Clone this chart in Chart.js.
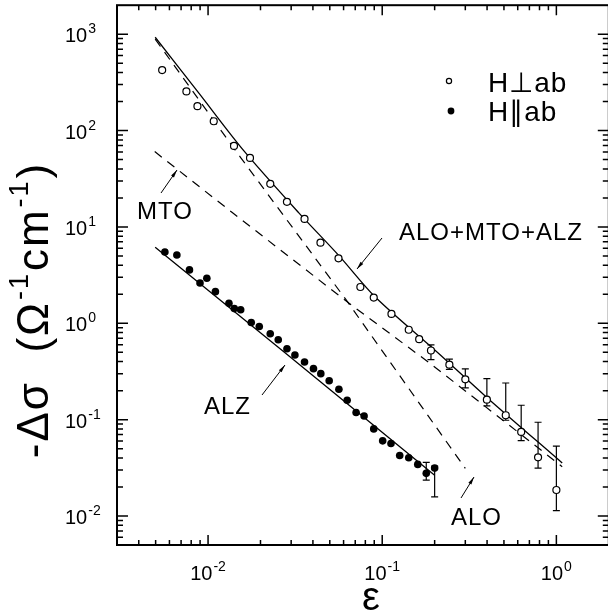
<!DOCTYPE html>
<html>
<head>
<meta charset="utf-8">
<script src="https://cdn.jsdelivr.net/npm/chart.js@4.4.1/dist/chart.umd.min.js"></script>
<style>
  html, body { margin: 0; padding: 0; background: #fff; overflow: hidden; }
  #wrap { width: 614px; height: 615px; }
</style>
</head>
<body>
<div id="wrap"><canvas id="chart" width="614" height="615"></canvas></div>
<script>
// H perpendicular to ab (open circles)
const perpEps = [0.00545, 0.00751, 0.00869, 0.01078, 0.01409, 0.01741, 0.02276, 0.02837,
  0.0358, 0.0442, 0.0561, 0.0749, 0.0894, 0.113, 0.142, 0.163, 0.1905, 0.243,
  0.300, 0.399, 0.512, 0.628, 0.785, 1.0];
const perpSig = [424, 255, 179, 125, 69.3, 52, 28.0, 18.2,
  12.1, 6.86, 4.72, 2.38, 1.85, 1.25, 0.857, 0.684, 0.522, 0.372,
  0.262, 0.161, 0.111, 0.0746, 0.0406, 0.0186];
const perpErrLo = [null, null, null, null, null, null, null, null,
  null, null, null, null, null, null, null, null, 0.419, 0.333,
  0.214, 0.139, 0.0986, 0.0605, 0.0314, 0.01135];
const perpErrHi = [null, null, null, null, null, null, null, null,
  null, null, null, null, null, null, null, null, 0.598, 0.425,
  0.336, 0.266, 0.240, 0.141, 0.094, 0.0531];

// H parallel to ab (filled circles)
const parEps = [0.00565, 0.00662, 0.00782, 0.00899, 0.00984, 0.01102, 0.01318, 0.01415,
  0.01539, 0.0177, 0.01968, 0.02275, 0.02529, 0.02838, 0.03153, 0.0358, 0.0403,
  0.0444, 0.0496, 0.0564, 0.0629, 0.0708, 0.0787, 0.0894, 0.1006, 0.1123, 0.126,
  0.142, 0.160, 0.179, 0.200];
const parSig = [5.50, 5.12, 3.58, 2.62, 2.93, 2.13, 1.61, 1.42,
  1.38, 1.02, 0.927, 0.778, 0.675, 0.545, 0.468, 0.396, 0.338,
  0.300, 0.253, 0.207, 0.159, 0.1186, 0.109, 0.0801, 0.0602, 0.0566, 0.0425,
  0.0402, 0.0343, 0.0277, 0.0314];
const parErrLo = [null, null, null, null, null, null, null, null,
  null, null, null, null, null, null, null, null, null,
  null, null, null, null, null, null, null, null, null, null,
  null, null, 0.0236, 0.0158];
const parErrHi = [null, null, null, null, null, null, null, null,
  null, null, null, null, null, null, null, null, null,
  null, null, null, null, null, null, null, null, null, null,
  null, null, 0.036, 0.033];

// fitted curves
const totalEps = [0.00497, 0.00888, 0.01607, 0.0332, 0.0564, 0.0918, 0.211, 0.397, 1.08];
const totalSig = [930, 243, 61.5, 14.0, 5.04, 1.85, 0.486, 0.171, 0.0355];
const aloEps = [0.00497, 0.01539, 0.0615, 0.300];
const aloSig = [887, 52.4, 1.79, 0.0312];
const mtoEps = [0.00494, 0.01377, 0.0643, 0.185, 1.08];
const mtoSig = [60.5, 14.1, 1.62, 0.393, 0.0325];
const alzEps = [0.00497, 0.028, 0.200];
const alzSig = [6.14, 0.486, 0.0265];

// axes
const xTickValues = [0.01, 0.1, 1];
const xTickLabels = ['10^-2', '10^-1', '10^0'];
const yTickValues = [0.01, 0.1, 1, 10, 100, 1000];
const yTickLabels = ['10^-2', '10^-1', '10^0', '10^1', '10^2', '10^3'];

const FONT = '"Liberation Sans", Arial, sans-serif';

function pts(xs, ys) {
  return xs.map((x, i) => ({ x: x, y: ys[i] }));
}

function drawSup(ctx, label, x, y, size, supSize, align) {
  // label like "10^-2"; y is vertical middle of the base text
  const parts = label.split('^');
  ctx.font = size + 'px ' + FONT;
  const wb = ctx.measureText(parts[0]).width;
  ctx.font = supSize + 'px ' + FONT;
  const ws = ctx.measureText(parts[1]).width;
  let x0 = x;
  if (align === 'center') x0 = x - (wb + ws + 1) / 2;
  ctx.textBaseline = 'alphabetic';
  ctx.textAlign = 'left';
  ctx.font = size + 'px ' + FONT;
  ctx.fillText(parts[0], x0, y + size * 0.36);
  ctx.font = supSize + 'px ' + FONT;
  ctx.fillText(parts[1], x0 + wb + 1, y + size * 0.36 - size * 0.45);
}

function arrow(ctx, x1, y1, x2, y2) {
  ctx.beginPath();
  ctx.moveTo(x1, y1);
  ctx.lineTo(x2, y2);
  ctx.stroke();
  const a = Math.atan2(y2 - y1, x2 - x1);
  const L = 8, W = 0.22;
  ctx.beginPath();
  ctx.moveTo(x2, y2);
  ctx.lineTo(x2 - L * Math.cos(a - W), y2 - L * Math.sin(a - W));
  ctx.lineTo(x2 - L * Math.cos(a + W), y2 - L * Math.sin(a + W));
  ctx.closePath();
  ctx.fill();
}

const errorBars = {
  id: 'errorBars',
  beforeDatasetsDraw(chart) {
    const ctx = chart.ctx;
    const xs = chart.scales.x, ys = chart.scales.y;
    ctx.save();
    ctx.strokeStyle = '#000';
    ctx.lineWidth = 1.2;
    const sets = [[perpEps, perpErrLo, perpErrHi], [parEps, parErrLo, parErrHi]];
    sets.forEach(([ex, lo, hi]) => {
      ex.forEach((e, i) => {
        if (lo[i] == null) return;
        const px = xs.getPixelForValue(e);
        const p1 = ys.getPixelForValue(lo[i]);
        const p2 = ys.getPixelForValue(hi[i]);
        ctx.beginPath();
        ctx.moveTo(px, p1); ctx.lineTo(px, p2);
        ctx.moveTo(px - 3.5, p1); ctx.lineTo(px + 3.5, p1);
        ctx.moveTo(px - 3.5, p2); ctx.lineTo(px + 3.5, p2);
        ctx.stroke();
      });
    });
    ctx.restore();
  }
};

const frame = {
  id: 'frame',
  afterDraw(chart) {
    const ctx = chart.ctx;
    const a = chart.chartArea;
    const xs = chart.scales.x, ys = chart.scales.y;
    ctx.save();
    ctx.strokeStyle = '#000';
    ctx.fillStyle = '#000';

    // box
    ctx.lineWidth = 2;
    ctx.strokeRect(a.left, a.top, a.right - a.left, a.bottom - a.top);

    // inward ticks on all four sides
    ctx.lineWidth = 1.5;
    for (let e = -3; e <= 3; e++) {
      for (let m = 1; m <= 9; m++) {
        const v = m * Math.pow(10, e);
        const major = m === 1;
        if (v > xs.min && v < xs.max) {
          const px = xs.getPixelForValue(v);
          const len = major ? 10 : 5;
          ctx.beginPath();
          ctx.moveTo(px, a.bottom); ctx.lineTo(px, a.bottom - len);
          ctx.moveTo(px, a.top); ctx.lineTo(px, a.top + len);
          ctx.stroke();
        }
        if (v > ys.min && v < ys.max) {
          const py = ys.getPixelForValue(v);
          const len = major ? 11 : 6;
          ctx.beginPath();
          ctx.moveTo(a.left, py); ctx.lineTo(a.left + len, py);
          ctx.moveTo(a.right, py); ctx.lineTo(a.right - len, py);
          ctx.stroke();
        }
      }
    }

    // tick labels
    xTickValues.forEach((v, i) => {
      drawSup(ctx, xTickLabels[i], xs.getPixelForValue(v), 573, 20, 14, 'center');
    });
    yTickValues.forEach((v, i) => {
      drawSup(ctx, yTickLabels[i], 65, ys.getPixelForValue(v) + 1, 20, 14, 'left');
    });

    // x title
    ctx.font = '40px ' + FONT;
    ctx.textAlign = 'center';
    ctx.textBaseline = 'alphabetic';
    ctx.fillText('\u03b5', 371, 610);

    // y title (rotated)
    ctx.save();
    ctx.translate(48, 310);
    ctx.rotate(-Math.PI / 2);
    ctx.letterSpacing = '2px';
    const parts = [['-\u0394\u03c3  (\u03a9', 0], ['-1', 1], ['cm', 0], ['-1', 1], [')', 0]];
    const big = 44, small = 27;
    let total = 0;
    parts.forEach(p => {
      ctx.font = (p[1] ? small : big) + 'px ' + FONT;
      total += ctx.measureText(p[0]).width + (p[1] ? 2 : 0);
    });
    let cx = -total / 2;
    ctx.textAlign = 'left';
    parts.forEach(p => {
      ctx.font = (p[1] ? small : big) + 'px ' + FONT;
      ctx.fillText(p[0], cx + (p[1] ? 1 : 0), p[1] ? -20 : 0);
      cx += ctx.measureText(p[0]).width + (p[1] ? 2 : 0);
    });
    ctx.restore();

    // curve labels and arrows
    ctx.letterSpacing = '1px';
    ctx.font = '24px ' + FONT;
    ctx.textAlign = 'left';
    ctx.fillText('MTO', 137, 219);
    ctx.fillText('ALO+MTO+ALZ', 399, 240);
    ctx.fillText('ALZ', 204, 414);
    ctx.fillText('ALO', 451, 525);
    ctx.lineWidth = 1;
    arrow(ctx, 161, 193, 177, 170);
    arrow(ctx, 382, 238, 357, 269);
    arrow(ctx, 262, 395, 285, 365);
    arrow(ctx, 461, 498, 474, 477);

    // legend
    ctx.lineWidth = 1.2;
    ctx.beginPath();
    ctx.arc(449, 81, 2.6, 0, Math.PI * 2);
    ctx.stroke();
    ctx.beginPath();
    ctx.arc(451, 111, 3.4, 0, Math.PI * 2);
    ctx.fill();
    ctx.font = '28px ' + FONT;
    ctx.fillText('H\u22a5ab', 488, 92);
    ctx.fillText('H\u2225ab', 488, 121);

    ctx.restore();
  }
};

const whiteBg = {
  id: 'whiteBg',
  beforeDraw(chart) {
    const ctx = chart.ctx;
    ctx.save();
    ctx.fillStyle = '#fff';
    ctx.fillRect(0, 0, chart.width, chart.height);
    ctx.restore();
  }
};

new Chart(document.getElementById('chart'), {
  type: 'scatter',
  data: {
    datasets: [
      {
        label: 'H\u22a5ab', data: pts(perpEps, perpSig), order: 0,
        pointStyle: 'circle', pointRadius: 3.5, borderWidth: 1.2,
        borderColor: '#000', backgroundColor: '#fff'
      },
      {
        label: 'H\u2225ab', data: pts(parEps, parSig), order: 0,
        pointStyle: 'circle', pointRadius: 3.8, borderWidth: 0,
        borderColor: '#000', backgroundColor: '#000'
      },
      {
        label: 'ALO+MTO+ALZ', data: pts(totalEps, totalSig), order: 1,
        showLine: true, pointRadius: 0, borderColor: '#000', borderWidth: 1.3, tension: 0.3
      },
      {
        label: 'ALO', data: pts(aloEps, aloSig), order: 1,
        showLine: true, pointRadius: 0, borderColor: '#000', borderWidth: 1.2,
        borderDash: [9, 7]
      },
      {
        label: 'MTO', data: pts(mtoEps, mtoSig), order: 1,
        showLine: true, pointRadius: 0, borderColor: '#000', borderWidth: 1.2,
        borderDash: [9, 7]
      },
      {
        label: 'ALZ', data: pts(alzEps, alzSig), order: 1,
        showLine: true, pointRadius: 0, borderColor: '#000', borderWidth: 1.3
      }
    ]
  },
  options: {
    responsive: false,
    animation: false,
    events: [],
    layout: { padding: { left: 117, top: 4, right: 4, bottom: 70 } },
    scales: {
      x: { type: 'logarithmic', min: 0.003, max: 2, display: false },
      y: { type: 'logarithmic', min: 0.005, max: 2000, display: false }
    },
    plugins: {
      legend: { display: false },
      tooltip: { enabled: false }
    }
  },
  plugins: [whiteBg, errorBars, frame]
});
</script>
</body>
</html>
